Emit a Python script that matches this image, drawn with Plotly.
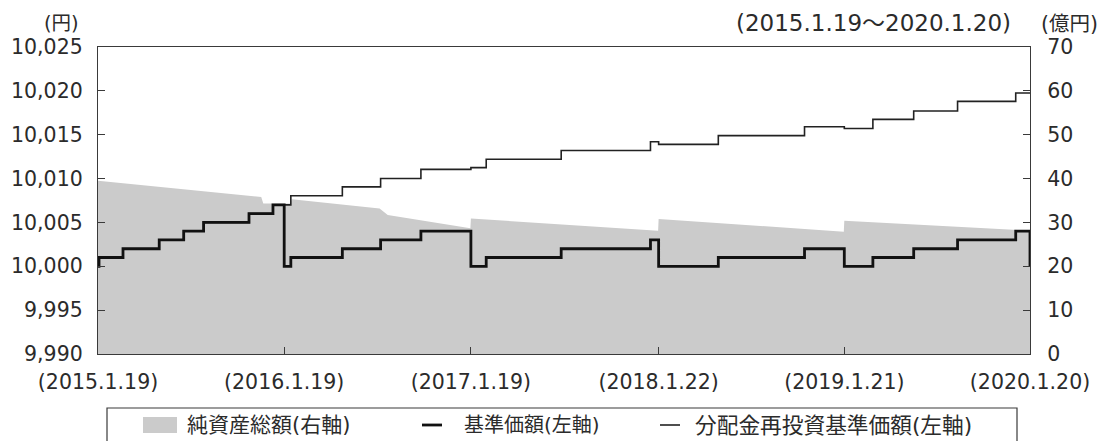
import plotly.graph_objects as go

# ---- data ----
nav_dates = ["2015-01-19", "2015-01-21", "2015-03-09", "2015-05-19", "2015-07-06",
             "2015-08-14", "2015-11-11", "2015-12-28", "2016-01-19", "2016-02-01",
             "2016-05-12", "2016-07-26", "2016-10-13", "2017-01-19", "2017-02-18",
             "2017-07-15", "2018-01-06", "2018-01-22", "2018-05-19", "2018-11-04",
             "2019-01-21", "2019-03-18", "2019-06-06", "2019-08-31", "2019-12-23",
             "2020-01-20"]
nav_values = [10000, 10001, 10002, 10003, 10004,
              10005, 10006, 10007, 10000, 10001,
              10002, 10003, 10004, 10000, 10001,
              10002, 10003, 10000, 10001, 10002,
              10000, 10001, 10002, 10003, 10004,
              10000]

reinv_dates = ["2015-01-19", "2015-01-21", "2015-03-09", "2015-05-19", "2015-07-06",
               "2015-08-14", "2015-11-11", "2015-12-28", "2016-01-19", "2016-02-01",
               "2016-05-12", "2016-07-26", "2016-10-13", "2017-01-19", "2017-02-18",
               "2017-07-15", "2018-01-06", "2018-01-22", "2018-05-19", "2018-11-04",
               "2019-01-21", "2019-03-18", "2019-06-06", "2019-08-31", "2019-12-23",
               "2020-01-20"]
reinv_values = [10000, 10001, 10002, 10003, 10004,
                10005, 10006, 10007, 10007, 10008.05,
                10009.05, 10010.0, 10011.05, 10011.25, 10012.2,
                10013.2, 10014.2, 10013.9, 10014.9, 10015.9,
                10015.7, 10016.75, 10017.7, 10018.8, 10019.75,
                10019.8]

asset_dates = ["2015-01-19", "2015-12-05", "2015-12-09", "2016-01-31", "2016-02-03",
               "2016-07-24", "2016-08-09", "2017-01-18", "2017-01-19", "2018-01-21",
               "2018-01-22", "2019-01-20", "2019-01-21", "2020-01-20"]
asset_values = [39.5, 35.8, 34.3, 34.3, 35.3,
                33.2, 31.7, 28.7, 30.9, 28.1,
                30.8, 27.9, 30.4, 28.1]

x_tick_dates = ["2015-01-19", "2016-01-19", "2017-01-19", "2018-01-22", "2019-01-21", "2020-01-20"]
x_tick_labels = ["(2015.1.19)", "(2016.1.19)", "(2017.1.19)", "(2018.1.22)", "(2019.1.21)", "(2020.1.20)"]

legend_labels = ["純資産総額(右軸)", "基準価額(左軸)", "分配金再投資基準価額(左軸)"]

FONT = "DejaVu Sans, Noto Sans CJK JP"
TXT = "#2b2b2b"
AX = "#3a3a3a"
GRAY = "#cbcbcb"

fig = go.Figure()

# net assets (right axis) -> main y axis, drawn underneath
fig.add_trace(go.Scatter(
    x=asset_dates, y=asset_values, name=legend_labels[0],
    mode="lines", line=dict(width=0, color=GRAY), fill="tozeroy",
    fillcolor=GRAY, yaxis="y", showlegend=False))

# reinvested NAV (left axis)
fig.add_trace(go.Scatter(
    x=reinv_dates, y=reinv_values, name=legend_labels[2],
    mode="lines", line=dict(width=1.6, color="#222222", shape="hv"),
    yaxis="y2", showlegend=False))

# NAV (left axis)
fig.add_trace(go.Scatter(
    x=nav_dates, y=nav_values, name=legend_labels[1],
    mode="lines", line=dict(width=2.8, color="#111111", shape="hv"),
    yaxis="y2", showlegend=False))

# the page body adds an 8px offset; the figure is sized to compensate
OFF = 8
L, R, T, B = 98 - OFF, 75, 47 - OFF, 87
W, H = 1105 - OFF, 441 - OFF
pw, ph = W - L - R, H - T - B

def px(x):
    return (x - 98) / pw

def py(y):
    return (354 - y) / ph

tickfont = dict(size=20.5, family=FONT, color=TXT)

fig.update_layout(
    width=W, height=H,
    margin=dict(l=L, r=R, t=T, b=B, pad=0, autoexpand=False),
    paper_bgcolor="white", plot_bgcolor="white",
    font=dict(family=FONT, color=TXT, size=20),
    showlegend=False,
    xaxis=dict(
        type="date", range=["2015-01-19", "2020-01-20"],
        tickvals=x_tick_dates, ticktext=x_tick_labels,
        ticks="inside", ticklen=7, tickcolor=AX, tickwidth=1.2,
        showline=True, linecolor=AX, linewidth=1.3, mirror=True,
        showgrid=False, zeroline=False, automargin=False,
        tickfont=tickfont, ticklabelstandoff=9,
    ),
    yaxis=dict(
        side="right", range=[0, 70], dtick=10, tick0=0,
        ticks="inside", ticklen=7, tickcolor=AX, tickwidth=1.2,
        showline=True, linecolor=AX, linewidth=1.3,
        showgrid=False, zeroline=False, automargin=False,
        tickfont=tickfont, ticklabelstandoff=12,
    ),
    yaxis2=dict(
        side="left", overlaying="y", range=[9990, 10025], dtick=5, tick0=9990,
        tickformat=",d",
        ticks="inside", ticklen=7, tickcolor=AX, tickwidth=1.2,
        showline=True, linecolor=AX, linewidth=1.3,
        showgrid=False, zeroline=False, automargin=False,
        tickfont=tickfont, ticklabelstandoff=10,
    ),
)

# axis unit labels and period
fig.add_annotation(x=px(81), y=py(24), xref="paper", yref="paper", text="(円)",
                   showarrow=False, xanchor="right", yanchor="middle",
                   font=dict(size=19.5, family=FONT, color=TXT))
fig.add_annotation(x=px(1039), y=py(24), xref="paper", yref="paper", text="(億円)",
                   showarrow=False, xanchor="left", yanchor="middle",
                   font=dict(size=20.5, family=FONT, color=TXT))
fig.add_annotation(x=px(1013), y=py(23), xref="paper", yref="paper",
                   text="(2015.1.19～2020.1.20)",
                   showarrow=False, xanchor="right", yanchor="middle",
                   font=dict(size=23, family=FONT, color=TXT))

# legend box (custom, to match the reference layout)
fig.add_shape(type="rect", xref="paper", yref="paper",
              x0=px(107), x1=px(1017), y0=py(452), y1=py(408),
              line=dict(color=AX, width=1.2), fillcolor="white", layer="above")
fig.add_shape(type="rect", xref="paper", yref="paper",
              x0=px(143), x1=px(177), y0=py(433), y1=py(417),
              line=dict(width=0), fillcolor=GRAY)
fig.add_shape(type="line", xref="paper", yref="paper",
              x0=px(422), x1=px(442), y0=py(425), y1=py(425),
              line=dict(color="#111111", width=2.8))
fig.add_shape(type="line", xref="paper", yref="paper",
              x0=px(660), x1=px(680), y0=py(425), y1=py(425),
              line=dict(color="#222222", width=1.6))
for xpix, lab, sz in zip([185, 462, 693], legend_labels, [21, 20, 21.7]):
    fig.add_annotation(x=px(xpix), y=py(425), xref="paper", yref="paper", text=lab,
                       showarrow=False, xanchor="left", yanchor="middle",
                       font=dict(size=sz, family=FONT, color=TXT))

fig.write_html("out.html")
